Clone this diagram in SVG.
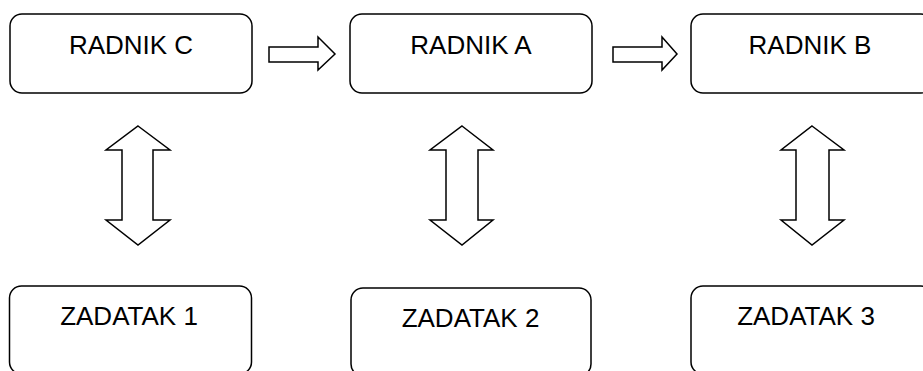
<svg xmlns="http://www.w3.org/2000/svg" width="923" height="371" viewBox="0 0 923 371">
<style>
.box{fill:#fff;stroke:#000;stroke-width:1.5}
.arr{fill:#fff;stroke:#000;stroke-width:1.5;stroke-linejoin:miter}
.lbl{font-family:"Liberation Sans",Arial,sans-serif;font-size:26px;fill:#000;text-anchor:middle}
</style>
<rect width="923" height="371" fill="#fff"/>
<g id="radnik-c"><rect class="box" x="10" y="14" width="242" height="79" rx="12"/><text class="lbl" x="131" y="54">RADNIK C</text></g>
<g id="radnik-a"><rect class="box" x="350" y="14" width="242" height="79" rx="12"/><text class="lbl" x="471" y="54">RADNIK A</text></g>
<g id="radnik-b"><rect class="box" x="691" y="14" width="242" height="79" rx="12"/><text class="lbl" x="810" y="54">RADNIK B</text></g>
<g id="zadatak-1"><rect class="box" x="9.5" y="286" width="242" height="88" rx="12"/><text class="lbl" x="129" y="325">ZADATAK 1</text></g>
<g id="zadatak-2"><rect class="box" x="351" y="288" width="240" height="88" rx="12"/><text class="lbl" x="470.5" y="327">ZADATAK 2</text></g>
<g id="zadatak-3"><rect class="box" x="691" y="286" width="242" height="88" rx="12"/><text class="lbl" x="806" y="325">ZADATAK 3</text></g>
<g id="connectors">
<polygon class="arr" points="269,47 318,47 318,37 335,54 318,70 318,62 269,62"/>
<polygon class="arr" points="613,47 662,47 662,37 677,54 662,70 662,62 613,62"/>
<polygon class="arr" points="138,126 170,150 153,150 153,220 170,220 138,245 106,220 122,220 122,150 106,150"/>
<polygon class="arr" points="462,126 493,150 478,150 478,220 493,220 462,245 430,220 446,220 446,150 430,150"/>
<polygon class="arr" points="812,126 844,150 829,150 829,220 844,220 812,245 781,220 796,220 796,150 781,150"/>
</g>
</svg>
